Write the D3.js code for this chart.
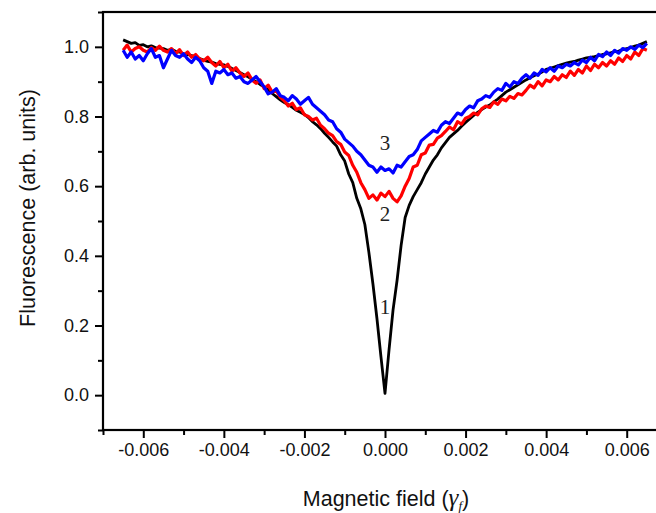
<!DOCTYPE html>
<html>
<head>
<meta charset="utf-8">
<script src="https://cdn.jsdelivr.net/npm/d3@7"></script>
<style>
  body { margin: 0; background: #fff; }
  svg { display: block; }
</style>
</head>
<body>
<div id="vis"></div>
<script>
// magnetic field values (units of gamma_f), shared by all three curves
const field = [
  -0.0065, -0.0064, -0.0063, -0.0062, -0.0061, -0.0060, -0.0059, -0.0058, -0.0057, -0.0056,
  -0.0055, -0.0054, -0.0053, -0.0052, -0.0051, -0.0050, -0.0049, -0.0048, -0.0047, -0.0046,
  -0.0045, -0.0044, -0.0043, -0.0042, -0.0041, -0.0040, -0.0039, -0.0038, -0.0037, -0.0036,
  -0.0035, -0.0034, -0.0033, -0.0032, -0.0031, -0.0030, -0.0029, -0.0028, -0.0027, -0.0026,
  -0.0025, -0.0024, -0.0023, -0.0022, -0.0021, -0.0020, -0.0019, -0.0018, -0.0017, -0.0016,
  -0.0015, -0.0014, -0.0013, -0.0012, -0.0011, -0.0010, -0.0009, -0.0008, -0.0007, -0.0006,
  -0.0005, -0.0004, -0.0003, -0.0002, -0.0001, 0.0000, 0.0001, 0.0002, 0.0003, 0.0004,
  0.0005, 0.0006, 0.0007, 0.0008, 0.0009, 0.0010, 0.0011, 0.0012, 0.0013, 0.0014,
  0.0015, 0.0016, 0.0017, 0.0018, 0.0019, 0.0020, 0.0021, 0.0022, 0.0023, 0.0024,
  0.0025, 0.0026, 0.0027, 0.0028, 0.0029, 0.0030, 0.0031, 0.0032, 0.0033, 0.0034,
  0.0035, 0.0036, 0.0037, 0.0038, 0.0039, 0.0040, 0.0041, 0.0042, 0.0043, 0.0044,
  0.0045, 0.0046, 0.0047, 0.0048, 0.0049, 0.0050, 0.0051, 0.0052, 0.0053, 0.0054,
  0.0055, 0.0056, 0.0057, 0.0058, 0.0059, 0.0060, 0.0061, 0.0062, 0.0063, 0.0064,
  0.0065
];

// curve 1 (black)
const curve1 = [
  1.02, 1.015, 1.01, 1.012, 1.004, 1.006, 1.0, 1.003, 0.998, 0.996,
  0.995, 0.99, 0.993, 0.987, 0.985, 0.98, 0.978, 0.975, 0.97, 0.966,
  0.962, 0.958, 0.956, 0.952, 0.95, 0.948, 0.944, 0.938, 0.932, 0.926,
  0.92, 0.914, 0.907, 0.9, 0.892, 0.885, 0.877, 0.866, 0.857, 0.848,
  0.84, 0.834, 0.826, 0.818, 0.812, 0.806, 0.797, 0.785, 0.776, 0.765,
  0.752, 0.74, 0.727, 0.715, 0.69, 0.672, 0.635, 0.61, 0.565, 0.535,
  0.49, 0.41, 0.32, 0.22, 0.11, 0.005, 0.13, 0.245, 0.33, 0.43,
  0.51, 0.545, 0.57, 0.59, 0.61, 0.635, 0.655, 0.675, 0.69, 0.71,
  0.725, 0.74, 0.75, 0.76, 0.772, 0.783, 0.793, 0.803, 0.812, 0.82,
  0.827, 0.833, 0.842, 0.85, 0.86, 0.87, 0.877, 0.884, 0.891, 0.898,
  0.905, 0.911, 0.917, 0.922, 0.928, 0.935, 0.938, 0.942, 0.946, 0.95,
  0.953, 0.956, 0.958, 0.962, 0.965, 0.968, 0.97, 0.972, 0.975, 0.978,
  0.98, 0.983, 0.986, 0.988, 0.992, 0.995, 0.998, 1.002, 1.005, 1.01,
  1.015
];

// curve 2 (red)
const curve2 = [
  0.99, 1.005, 0.985, 0.995, 1.0, 0.99, 0.985, 0.998, 0.99, 1.002,
  0.99, 0.985, 0.995, 0.98, 0.992, 0.975, 0.985, 0.97, 0.978, 0.965,
  0.96, 0.97, 0.955, 0.945, 0.958, 0.94, 0.95, 0.93, 0.94, 0.925,
  0.915, 0.925, 0.905, 0.895, 0.905, 0.88, 0.89, 0.87, 0.875, 0.855,
  0.845, 0.83, 0.838, 0.82, 0.825, 0.805, 0.8, 0.79, 0.795, 0.775,
  0.765, 0.752, 0.745, 0.728, 0.72, 0.698, 0.688, 0.66, 0.64, 0.61,
  0.59, 0.565, 0.575, 0.56, 0.58, 0.57, 0.585, 0.565, 0.555, 0.572,
  0.6, 0.622, 0.655, 0.66, 0.69, 0.695, 0.718, 0.72, 0.738, 0.745,
  0.757, 0.77, 0.762, 0.785, 0.778, 0.795, 0.8, 0.81, 0.805, 0.822,
  0.83, 0.826, 0.842, 0.835, 0.85, 0.845, 0.858, 0.852, 0.866, 0.862,
  0.875, 0.89, 0.882, 0.9, 0.888, 0.905, 0.9, 0.915, 0.905, 0.92,
  0.912, 0.93, 0.918, 0.935, 0.925, 0.945, 0.932, 0.95, 0.94, 0.955,
  0.945, 0.96, 0.95, 0.968, 0.958, 0.975, 0.965, 0.985, 0.975, 0.995,
  0.99
];

// curve 3 (blue)
const curve3 = [
  0.99, 0.97, 0.985, 0.965, 0.975, 0.96, 0.98, 0.995, 0.97, 0.975,
  0.94, 0.965, 0.99, 0.975, 0.97, 0.98, 0.965, 0.955, 0.97, 0.96,
  0.94, 0.93, 0.895, 0.93, 0.925, 0.935, 0.92, 0.925, 0.91, 0.915,
  0.9, 0.895, 0.905, 0.915, 0.9, 0.885, 0.865, 0.87, 0.88, 0.86,
  0.855, 0.845, 0.86, 0.85, 0.835, 0.845, 0.855, 0.835, 0.825, 0.815,
  0.805, 0.79, 0.785, 0.765, 0.755, 0.735, 0.725, 0.715, 0.7, 0.69,
  0.675, 0.66, 0.655, 0.64, 0.655, 0.645, 0.65, 0.638, 0.66, 0.655,
  0.67, 0.685, 0.69, 0.705, 0.73, 0.74, 0.75, 0.76, 0.755, 0.775,
  0.785, 0.78, 0.795, 0.81, 0.805, 0.82, 0.83, 0.825, 0.845, 0.85,
  0.86, 0.855, 0.87, 0.88, 0.875, 0.895, 0.885, 0.9, 0.895, 0.91,
  0.92, 0.91, 0.925, 0.918, 0.935, 0.928, 0.94, 0.93, 0.945, 0.94,
  0.95, 0.945, 0.955, 0.948, 0.962, 0.955, 0.97, 0.96, 0.978, 0.972,
  0.985, 0.975, 0.99, 0.982, 0.995, 0.99, 1.0, 0.993, 1.005, 0.998,
  1.01
];

const xMajor = [-0.006, -0.004, -0.002, 0.000, 0.002, 0.004, 0.006];
const xMinor = [-0.007, -0.005, -0.003, -0.001, 0.001, 0.003, 0.005, 0.007];
const yMajor = [0.0, 0.2, 0.4, 0.6, 0.8, 1.0];
const yMinor = [-0.1, 0.1, 0.3, 0.5, 0.7, 0.9, 1.1];

const curveLabels = ["1", "2", "3"];
const labelField = [0.0, 0.0, 0.0];
const labelValue = [0.233, 0.5, 0.705];

const margin = { top: 12, left: 103 };
const plotW = 564, plotH = 418;

const svg = d3.select("#vis")
  .append("svg")
  .attr("width", 656)
  .attr("height", 513);

const g = svg.append("g")
  .attr("transform", `translate(${margin.left},${margin.top})`);

const x = d3.scaleLinear().domain([-0.007, 0.007]).range([0, plotW]);
const y = d3.scaleLinear().domain([-0.1, 1.1]).range([plotH, 0]);

const font = "'Liberation Sans', Arial, sans-serif";

// plain hyphen for negative numbers, like the original
const locale = d3.formatLocale({ decimal: ".", thousands: ",", grouping: [3], currency: ["", ""], minus: "-" });

// curves
const series = [
  { values: curve1, color: "#000000", width: 2.8 },
  { values: curve2, color: "#ff0000", width: 3.2 },
  { values: curve3, color: "#0000ff", width: 3.2 }
];

const line = d3.line()
  .x(d => x(d[0]))
  .y(d => y(d[1]));

series.forEach(s => {
  g.append("path")
    .datum(field.map((f, i) => [f, s.values[i]]))
    .attr("fill", "none")
    .attr("stroke", s.color)
    .attr("stroke-width", s.width)
    .attr("stroke-linejoin", "round")
    .attr("d", line);
});

// curve numbers
g.selectAll(".num")
  .data(curveLabels)
  .enter()
  .append("text")
  .attr("class", "num")
  .attr("x", (d, i) => x(labelField[i]))
  .attr("y", (d, i) => y(labelValue[i]))
  .attr("text-anchor", "middle")
  .attr("font-family", "'Liberation Serif', 'DejaVu Serif', serif")
  .attr("font-size", 21)
  .attr("fill", "#222")
  .text(d => d);

// axes
const xAxis = g.append("g")
  .attr("transform", `translate(0,${plotH})`)
  .call(d3.axisBottom(x).tickValues(xMajor).tickSize(8).tickSizeOuter(0).tickPadding(5)
    .tickFormat(locale.format(".3f")));
xAxis.select(".domain").remove();

const xAxisMinor = g.append("g")
  .attr("transform", `translate(0,${plotH})`)
  .call(d3.axisBottom(x).tickValues(xMinor).tickSize(5).tickSizeOuter(0).tickFormat(""));
xAxisMinor.select(".domain").remove();

const yAxis = g.append("g")
  .call(d3.axisLeft(y).tickValues(yMajor).tickSize(8).tickSizeOuter(0).tickPadding(6)
    .tickFormat(locale.format(".1f")));
yAxis.select(".domain").remove();

const yAxisMinor = g.append("g")
  .call(d3.axisLeft(y).tickValues(yMinor).tickSize(5).tickSizeOuter(0).tickFormat(""));
yAxisMinor.select(".domain").remove();

g.selectAll(".tick line")
  .attr("stroke", "#000")
  .attr("stroke-width", 2);

g.selectAll(".tick text")
  .attr("font-family", font)
  .attr("font-size", 18)
  .attr("fill", "#111");

// frame
g.append("rect")
  .attr("x", 0)
  .attr("y", 0)
  .attr("width", plotW)
  .attr("height", plotH)
  .attr("fill", "none")
  .attr("stroke", "#000")
  .attr("stroke-width", 2.2);

// axis titles
svg.append("text")
  .attr("transform", "translate(35,208) rotate(-90)")
  .attr("text-anchor", "middle")
  .attr("font-family", font)
  .attr("font-size", 21.5)
  .attr("fill", "#111")
  .text("Fluorescence (arb. units)");

const xt = svg.append("text")
  .attr("x", 386)
  .attr("y", 506)
  .attr("text-anchor", "middle")
  .attr("font-family", font)
  .attr("font-size", 21.5)
  .attr("fill", "#111");
xt.append("tspan").text("Magnetic field (");
xt.append("tspan")
  .attr("font-family", "'Liberation Serif', 'DejaVu Serif', serif")
  .attr("font-style", "italic")
  .attr("font-size", 25)
  .text("γ");
xt.append("tspan")
  .attr("font-family", "'Liberation Serif', 'DejaVu Serif', serif")
  .attr("font-style", "italic")
  .attr("font-size", 13)
  .attr("dy", 4)
  .text("f");
xt.append("tspan")
  .attr("dy", -4)
  .text(")");
</script>
</body>
</html>
